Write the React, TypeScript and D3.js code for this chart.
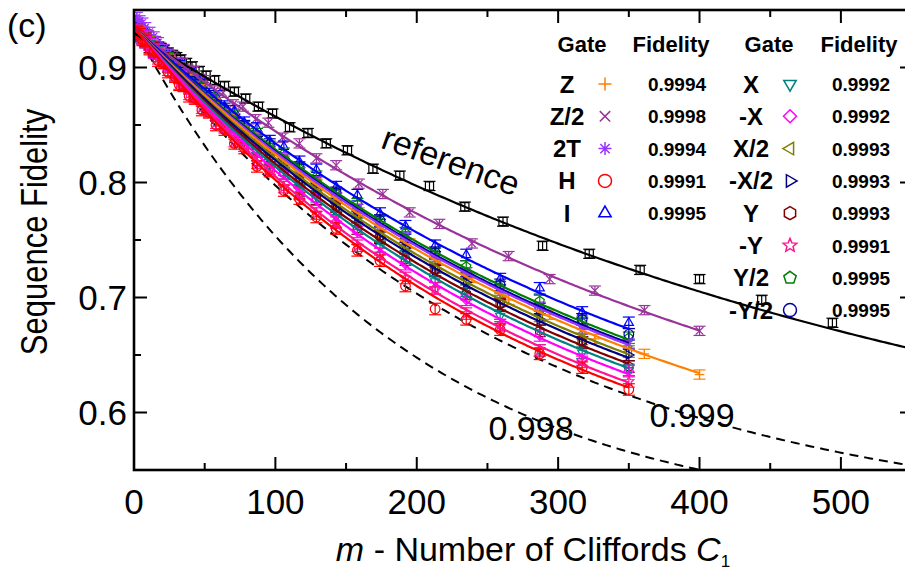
import React from 'react';
import * as d3 from 'd3';

const FONT = '"Liberation Sans", Arial, Helvetica, sans-serif';

// ---------- sequence lengths ----------
const mRef = [2, 4, 6, 8, 10, 12, 15, 17, 19, 21, 24, 27, 30, 33, 37, 41, 46, 51, 57, 64, 71, 79, 88, 98, 110, 123, 136, 151, 169, 188, 209, 234, 261, 289, 322, 358, 400, 444, 494];
const mGate = [2, 4, 6, 8, 11, 14, 17, 21, 24, 29, 32, 35, 39, 43, 48, 53, 58, 64, 71, 78, 87, 96, 106, 117, 129, 143, 158, 174, 192, 213, 235, 259, 287, 317, 350];
const mLong = [2, 4, 6, 8, 10, 13, 15, 18, 21, 25, 28, 31, 34, 38, 42, 46, 51, 57, 63, 70, 77, 86, 95, 105, 117, 129, 143, 159, 176, 195, 216, 239, 265, 294, 326, 361, 400];

// ---------- measured sequence fidelities ----------
const fidRef = [0.931, 0.929, 0.927, 0.926, 0.924, 0.922, 0.920, 0.918, 0.917, 0.915, 0.913, 0.911, 0.909, 0.907, 0.904, 0.901, 0.897, 0.893, 0.889, 0.884, 0.879, 0.873, 0.866, 0.860, 0.848, 0.843, 0.834, 0.828, 0.812, 0.806, 0.797, 0.779, 0.766, 0.745, 0.738, 0.724, 0.716, 0.698, 0.678];
const fidZ = [0.931, 0.931, 0.926, 0.926, 0.921, 0.920, 0.915, 0.913, 0.907, 0.905, 0.899, 0.898, 0.892, 0.890, 0.883, 0.881, 0.873, 0.869, 0.859, 0.855, 0.845, 0.839, 0.827, 0.821, 0.806, 0.799, 0.783, 0.774, 0.757, 0.747, 0.728, 0.717, 0.698, 0.685, 0.664, 0.651, 0.633];
const fidZ2 = [0.938, 0.934, 0.932, 0.929, 0.928, 0.923, 0.923, 0.918, 0.916, 0.911, 0.910, 0.905, 0.904, 0.898, 0.897, 0.890, 0.889, 0.880, 0.878, 0.868, 0.866, 0.855, 0.852, 0.839, 0.834, 0.821, 0.815, 0.799, 0.790, 0.774, 0.764, 0.747, 0.736, 0.716, 0.706, 0.689, 0.671];
const fid2T = [0.944, 0.941, 0.939, 0.935, 0.931, 0.927, 0.922, 0.916, 0.912, 0.904, 0.901, 0.895, 0.891, 0.884, 0.881, 0.873, 0.870, 0.860, 0.856, 0.846, 0.840, 0.828, 0.822, 0.809, 0.801, 0.787, 0.777, 0.762, 0.752, 0.733, 0.722, 0.704, 0.692, 0.672, 0.660];
const fidH = [0.931, 0.929, 0.924, 0.923, 0.916, 0.914, 0.906, 0.904, 0.896, 0.892, 0.885, 0.884, 0.875, 0.873, 0.863, 0.861, 0.850, 0.846, 0.834, 0.830, 0.814, 0.810, 0.793, 0.786, 0.770, 0.760, 0.741, 0.732, 0.710, 0.690, 0.681, 0.672, 0.651, 0.639, 0.620];
const fidI = [0.934, 0.931, 0.929, 0.925, 0.923, 0.918, 0.917, 0.910, 0.909, 0.902, 0.901, 0.895, 0.894, 0.887, 0.885, 0.877, 0.875, 0.866, 0.862, 0.852, 0.847, 0.836, 0.831, 0.818, 0.811, 0.796, 0.789, 0.773, 0.762, 0.745, 0.737, 0.716, 0.708, 0.687, 0.678];
const fidX = [0.932, 0.927, 0.928, 0.922, 0.921, 0.914, 0.913, 0.905, 0.904, 0.894, 0.893, 0.886, 0.885, 0.876, 0.875, 0.864, 0.862, 0.851, 0.848, 0.835, 0.831, 0.815, 0.811, 0.793, 0.788, 0.770, 0.764, 0.744, 0.736, 0.714, 0.706, 0.684, 0.654, 0.652, 0.637];
const fidMX = [0.933, 0.928, 0.927, 0.922, 0.920, 0.913, 0.912, 0.904, 0.902, 0.893, 0.892, 0.885, 0.883, 0.874, 0.872, 0.862, 0.860, 0.849, 0.845, 0.832, 0.828, 0.812, 0.808, 0.791, 0.785, 0.766, 0.757, 0.738, 0.729, 0.708, 0.698, 0.676, 0.667, 0.646, 0.636];
const fidX2 = [0.931, 0.928, 0.926, 0.923, 0.922, 0.915, 0.914, 0.907, 0.906, 0.897, 0.896, 0.890, 0.888, 0.880, 0.878, 0.869, 0.867, 0.857, 0.853, 0.842, 0.836, 0.823, 0.818, 0.803, 0.797, 0.780, 0.771, 0.754, 0.745, 0.726, 0.716, 0.697, 0.684, 0.664, 0.653];
const fidMX2 = [0.933, 0.928, 0.928, 0.923, 0.921, 0.915, 0.914, 0.906, 0.905, 0.896, 0.895, 0.889, 0.887, 0.879, 0.877, 0.867, 0.866, 0.855, 0.851, 0.840, 0.835, 0.821, 0.816, 0.801, 0.794, 0.777, 0.770, 0.752, 0.743, 0.723, 0.713, 0.693, 0.681, 0.661, 0.650];
const fidY = [0.930, 0.929, 0.925, 0.925, 0.918, 0.917, 0.910, 0.908, 0.901, 0.898, 0.891, 0.890, 0.882, 0.880, 0.871, 0.869, 0.859, 0.857, 0.844, 0.842, 0.827, 0.823, 0.808, 0.802, 0.786, 0.779, 0.760, 0.753, 0.733, 0.724, 0.703, 0.694, 0.671, 0.661, 0.640];
const fidMY = [0.932, 0.930, 0.925, 0.924, 0.917, 0.915, 0.908, 0.905, 0.898, 0.894, 0.886, 0.885, 0.877, 0.875, 0.865, 0.862, 0.852, 0.848, 0.836, 0.832, 0.817, 0.812, 0.796, 0.790, 0.773, 0.765, 0.745, 0.738, 0.717, 0.708, 0.686, 0.676, 0.654, 0.644, 0.627];
const fidY2 = [0.933, 0.929, 0.928, 0.924, 0.923, 0.917, 0.916, 0.909, 0.908, 0.900, 0.899, 0.893, 0.891, 0.884, 0.882, 0.873, 0.871, 0.862, 0.858, 0.848, 0.842, 0.831, 0.825, 0.812, 0.805, 0.790, 0.781, 0.766, 0.756, 0.738, 0.727, 0.709, 0.697, 0.678, 0.665];
const fidMY2 = [0.936, 0.931, 0.926, 0.926, 0.920, 0.919, 0.913, 0.911, 0.905, 0.901, 0.896, 0.895, 0.888, 0.886, 0.878, 0.875, 0.867, 0.864, 0.854, 0.849, 0.838, 0.833, 0.820, 0.813, 0.800, 0.791, 0.776, 0.767, 0.750, 0.739, 0.721, 0.711, 0.690, 0.681, 0.668];

// ---------- series meta ----------
const seriesNames = ['reference', 'Z', 'Z/2', '2T', 'H', 'I', 'X', '-X', 'X/2', '-X/2', 'Y', '-Y', 'Y/2', '-Y/2'];
const seriesColors = ['#000000', '#ff8000', '#993399', '#9933ff', '#ff0000', '#0000ff', '#008080', '#ff00ff', '#808000', '#000080', '#800000', '#ff1493', '#008000', '#0000a0'];
const seriesShapes = ['square', 'plus', 'times', 'asterisk', 'circle', 'triUp', 'triDown', 'diamond', 'triLeft', 'triRight', 'hexagon', 'star', 'pentagon', 'circle'];
const seriesM = [mRef, mLong, mLong, mGate, mGate, mGate, mGate, mGate, mGate, mGate, mGate, mGate, mGate, mGate];
const seriesF = [fidRef, fidZ, fidZ2, fid2T, fidH, fidI, fidX, fidMX, fidX2, fidMX2, fidY, fidMY, fidY2, fidMY2];
const seriesErr = [0.004, 0.004, 0.004, 0.004, 0.005, 0.005, 0.005, 0.005, 0.005, 0.005, 0.005, 0.005, 0.005, 0.005];

// fit  F = floor + amp * exp(-decay * m)
const fitAmp = [0.43, 0.435, 0.435, 0.435, 0.435, 0.435, 0.435, 0.435, 0.435, 0.435, 0.435, 0.435, 0.435, 0.435];
const fitFloor = [0.5, 0.5, 0.5, 0.5, 0.5, 0.5, 0.5, 0.5, 0.5, 0.5, 0.5, 0.5, 0.5, 0.5];
const fitDecay = [0.00185, 0.00294, 0.00233, 0.00288, 0.00364, 0.00264, 0.00327, 0.00338, 0.00303, 0.00309, 0.00319, 0.00354, 0.00280, 0.00285];
const fitEnd = [551, 400, 400, 350, 350, 350, 350, 350, 350, 350, 350, 350, 350, 350];

// threshold curves
const threshLabels = ['0.999', '0.998'];
const threshAmp = [0.435, 0.435];
const threshFloor = [0.5, 0.5];
const threshDecay = [0.0038, 0.0054];

// legend
const legendLeft = [1, 2, 3, 4, 5];
const legendRight = [6, 7, 8, 9, 10, 11, 12, 13];
const legendFid = ['', '0.9994', '0.9998', '0.9994', '0.9991', '0.9995', '0.9992', '0.9992', '0.9993', '0.9993', '0.9993', '0.9991', '0.9995', '0.9995'];

// axes
const xMajor = [0, 100, 200, 300, 400, 500];
const xMinor = [50, 150, 250, 350, 450];
const yMajor = [0.6, 0.7, 0.8, 0.9];
const yMinor = [0.65, 0.75, 0.85];

function poly(n: number, r: number, startDeg: number, inner?: number): string {
  const pts: string[] = [];
  const count = inner ? n * 2 : n;
  for (let i = 0; i < count; i++) {
    const a = (startDeg * Math.PI) / 180 + (i * 2 * Math.PI) / count;
    const rr = inner && i % 2 === 1 ? r * inner : r;
    pts.push(`${(rr * Math.cos(a)).toFixed(2)},${(rr * Math.sin(a)).toFixed(2)}`);
  }
  return 'M' + pts.join('L') + 'Z';
}

function markerPath(shape: string, s: number): string {
  switch (shape) {
    case 'square':
      return `M${-s * 0.85},${-s * 0.85}H${s * 0.85}V${s * 0.85}H${-s * 0.85}Z`;
    case 'circle':
      return `M${s},0A${s},${s} 0 1,1 ${-s},0A${s},${s} 0 1,1 ${s},0Z`;
    case 'plus':
      return `M${-s},0H${s}M0,${-s}V${s}`;
    case 'times': {
      const t = s * 0.8;
      return `M${-t},${-t}L${t},${t}M${-t},${t}L${t},${-t}`;
    }
    case 'asterisk': {
      const t = s * 0.72;
      return `M${-s},0H${s}M0,${-s}V${s}M${-t},${-t}L${t},${t}M${-t},${t}L${t},${-t}`;
    }
    case 'diamond':
      return `M0,${-s}L${s},0L0,${s}L${-s},0Z`;
    case 'triUp':
      return poly(3, s * 1.1, -90);
    case 'triDown':
      return poly(3, s * 1.1, 90);
    case 'triLeft':
      return poly(3, s * 1.1, 180);
    case 'triRight':
      return poly(3, s * 1.1, 0);
    case 'hexagon':
      return poly(6, s, -90);
    case 'pentagon':
      return poly(5, s, -90);
    case 'star':
      return poly(5, s * 1.1, -90, 0.45);
    default:
      return '';
  }
}

export default function App() {
  const x = d3.scaleLinear().domain([0, 551]).range([134, 913]);
  const y = d3.scaleLinear().domain([0.55, 0.95]).range([470, 10]);

  const curve = (amp: number, floor: number, decay: number, end: number) => {
    const ms = d3.range(0, end, 2).concat([end]);
    return d3
      .line<number>()
      .x((m) => x(m))
      .y((m) => y(floor + amp * Math.exp(-decay * m)))(ms) as string;
  };

  const drawOrder = [0, 2, 5, 12, 13, 3, 1, 8, 9, 10, 6, 7, 11, 4];

  const legendRowY = (i: number) => 84 + i * 32.3;

  return (
    <svg
      width={905}
      height={574}
      viewBox="0 0 905 574"
      style={{ position: 'absolute', left: 0, top: 0, background: '#fff', display: 'block' }}
      fontFamily={FONT}
    >
      <defs>
        <clipPath id="plotclip">
          <rect x={134} y={10} width={779} height={460} />
        </clipPath>
      </defs>
      <rect x={0} y={0} width={905} height={574} fill="#fff" />

      <g clipPath="url(#plotclip)">
        {/* threshold dashed curves */}
        {threshLabels.map((_, i) => (
          <path
            key={'th' + i}
            d={curve(threshAmp[i], threshFloor[i], threshDecay[i], 551)}
            fill="none"
            stroke="#000"
            strokeWidth={2}
            strokeDasharray="9,6"
          />
        ))}

        {/* data points with error bars */}
        {drawOrder.map((si) => (
          <g key={'pts' + si} stroke={seriesColors[si]} fill="none" strokeWidth={1.2}>
            {seriesM[si].map((m, j) => {
              const v = seriesF[si][j];
              const e = seriesErr[si];
              const cx = x(m);
              return (
                <g key={j}>
                  <line x1={cx} x2={cx} y1={y(v - e)} y2={y(v + e)} />
                  <line x1={cx - 6} x2={cx + 6} y1={y(v - e)} y2={y(v - e)} />
                  <line x1={cx - 6} x2={cx + 6} y1={y(v + e)} y2={y(v + e)} />
                  <path d={markerPath(seriesShapes[si], 4.8)} transform={`translate(${cx},${y(v)})`} />
                </g>
              );
            })}
          </g>
        ))}

        {/* fit curves */}
        {drawOrder.map((si) => (
          <path
            key={'fit' + si}
            d={curve(fitAmp[si], fitFloor[si], fitDecay[si], fitEnd[si])}
            fill="none"
            stroke={seriesColors[si]}
            strokeWidth={2.2}
          />
        ))}
      </g>

      {/* frame */}
      <rect x={134} y={10} width={779} height={460} fill="none" stroke="#000" strokeWidth={2.6} />

      {/* ticks */}
      <g stroke="#000" strokeWidth={2}>
        {xMajor.map((t) => (
          <g key={'xM' + t}>
            <line x1={x(t)} x2={x(t)} y1={470} y2={457} />
            <line x1={x(t)} x2={x(t)} y1={10} y2={23} />
          </g>
        ))}
        {xMinor.map((t) => (
          <g key={'xm' + t}>
            <line x1={x(t)} x2={x(t)} y1={470} y2={463} />
            <line x1={x(t)} x2={x(t)} y1={10} y2={17} />
          </g>
        ))}
        {yMajor.map((t) => (
          <g key={'yM' + t}>
            <line x1={134} x2={147} y1={y(t)} y2={y(t)} />
            <line x1={913} x2={900} y1={y(t)} y2={y(t)} />
          </g>
        ))}
        {yMinor.map((t) => (
          <g key={'ym' + t}>
            <line x1={134} x2={141} y1={y(t)} y2={y(t)} />
            <line x1={913} x2={906} y1={y(t)} y2={y(t)} />
          </g>
        ))}
      </g>

      {/* tick labels */}
      <g fontSize={35} fill="#000">
        {xMajor.map((t) => (
          <text key={'xl' + t} x={x(t)} y={514} textAnchor="middle">
            {String(t)}
          </text>
        ))}
        {yMajor.map((t) => (
          <text key={'yl' + t} x={127} y={y(t) + 12.5} textAnchor="end">
            {t.toFixed(1)}
          </text>
        ))}
      </g>

      {/* axis titles */}
      <text x={533} y={561} textAnchor="middle" fontSize={34}>
        <tspan fontStyle="italic">m</tspan>
        <tspan> - Number of Cliffords </tspan>
        <tspan fontStyle="italic">C</tspan>
        <tspan fontSize={17} dy={6}>1</tspan>
      </text>
      <text transform="translate(47,232) rotate(-90) scale(1,1.2)" textAnchor="middle" fontSize={31}>
        Sequence Fidelity
      </text>
      <text x={7} y={37} fontSize={34}>(c)</text>

      {/* curve labels */}
      <text transform="translate(447,172) rotate(20)" textAnchor="middle" fontSize={34}>
        reference
      </text>
      <text x={692} y={427} textAnchor="middle" fontSize={34}>
        {threshLabels[0]}
      </text>
      <text x={531} y={440} textAnchor="middle" fontSize={34}>
        {threshLabels[1]}
      </text>

      {/* legend */}
      <g fontWeight="bold" fill="#000">
        <text x={582} y={52} textAnchor="middle" fontSize={22}>Gate</text>
        <text x={671} y={52} textAnchor="middle" fontSize={22}>Fidelity</text>
        <text x={769} y={52} textAnchor="middle" fontSize={22}>Gate</text>
        <text x={859} y={52} textAnchor="middle" fontSize={22}>Fidelity</text>
        {legendLeft.map((si, i) => {
          const cy = legendRowY(i);
          return (
            <g key={'ll' + si}>
              <text x={567} y={cy + 8.5} textAnchor="middle" fontSize={24}>{seriesNames[si]}</text>
              <path
                d={markerPath(seriesShapes[si], 6.5)}
                transform={`translate(605,${cy})`}
                fill="none"
                stroke={seriesColors[si]}
                strokeWidth={1.5}
              />
              <text x={677} y={cy + 7} textAnchor="middle" fontSize={19}>{legendFid[si]}</text>
            </g>
          );
        })}
        {legendRight.map((si, i) => {
          const cy = legendRowY(i);
          return (
            <g key={'lr' + si}>
              <text x={751} y={cy + 8.5} textAnchor="middle" fontSize={24}>{seriesNames[si]}</text>
              <path
                d={markerPath(seriesShapes[si], 6.5)}
                transform={`translate(790,${cy})`}
                fill="none"
                stroke={seriesColors[si]}
                strokeWidth={1.5}
              />
              <text x={861} y={cy + 7} textAnchor="middle" fontSize={19}>{legendFid[si]}</text>
            </g>
          );
        })}
      </g>
    </svg>
  );
}
